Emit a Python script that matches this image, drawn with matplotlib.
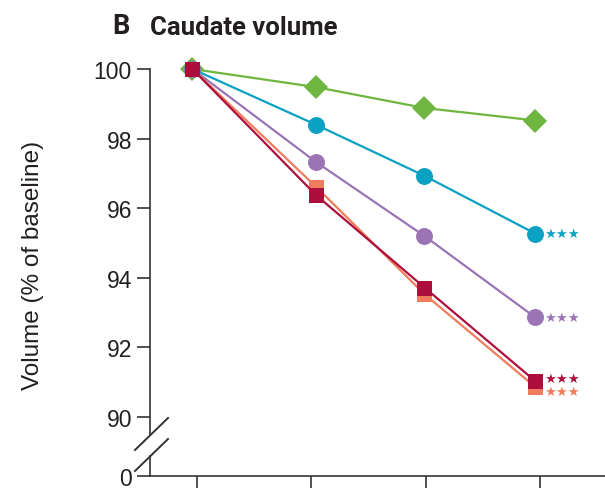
import numpy as np
import matplotlib
matplotlib.use("Agg")
import matplotlib.pyplot as plt
from matplotlib.lines import Line2D

# ---- data ----
tick_positions = [0, 1, 2, 3]
visit_times = [-0.04, 1.04, 1.99, 2.96]
green_vals = [100.0, 99.48, 98.88, 98.52]
cyan_vals = [100.0, 98.40, 96.93, 95.27]
purple_vals = [100.0, 97.33, 95.20, 92.86]
orange_vals = [100.0, 96.62, 93.53, 90.86]
red_vals = [100.0, 96.38, 93.72, 91.03]
ytick_vals = [0, 90, 92, 94, 96, 98, 100]
ytick_labels = ["0", "90", "92", "94", "96", "98", "100"]
stars = "★★★"

C_GREEN = "#6fb640"
C_CYAN = "#0aa1c2"
C_PURPLE = "#9b74b6"
C_ORANGE = "#ef7d5c"
C_RED = "#ad0f3c"
TXT = "#231f20"
AX = "#333333"

# broken axis scale: 0..90 compressed into a short segment
Z0 = 88.305
def fwd(v):
    v = np.asarray(v, dtype=float)
    return np.where(v >= 90, v, Z0 + v * (90 - Z0) / 90.0)

def inv(y):
    y = np.asarray(y, dtype=float)
    return np.where(y >= 90, y, (y - Z0) * 90.0 / (90 - Z0))

plt.rcParams['font.family'] = ['Liberation Sans', 'DejaVu Sans']

fig = plt.figure(figsize=(6.05, 4.89), dpi=100)
W, H = 605, 489
ax_left, ax_right = 150, 605
ax_top, ax_bot = 70, 477
ax = fig.add_axes([ax_left / W, (H - ax_bot) / H, (ax_right - ax_left) / W, (ax_bot - ax_top) / H])
ax.set_yscale('function', functions=(fwd, inv))

series = [
    (green_vals, C_GREEN, 'D', 11.8),
    (cyan_vals, C_CYAN, 'o', 12.2),
    (purple_vals, C_PURPLE, 'o', 12.2),
    (orange_vals, C_ORANGE, 's', 10.8),
    (red_vals, C_RED, 's', 10.8),
]
for vals, col, mk, ms in series:
    ax.plot(visit_times, vals, color=col, lw=1.6, marker=mk, ms=ms,
            markeredgewidth=0, clip_on=False, zorder=3)

# significance stars
star_series = [(cyan_vals, C_CYAN, 0), (purple_vals, C_PURPLE, 0),
               (red_vals, C_RED, 2.0), (orange_vals, C_ORANGE, -3.0)]
for vals, col, dy in star_series:
    ax.annotate(stars, xy=(visit_times[-1], vals[-1]), xytext=(6.5, dy),
                textcoords='offset points', ha='left', va='center',
                fontsize=9.5, color=col, family=['DejaVu Sans'], zorder=4)

ax.set_xlim(-0.411, 3.569)
ax.set_ylim(0, 100)
ax.set_xticks(tick_positions)
ax.set_xticklabels([])
ax.set_yticks(ytick_vals)
ax.set_yticklabels(ytick_labels)

for s in ['top', 'right', 'left']:
    ax.spines[s].set_visible(False)
ax.spines['bottom'].set_color(AX)
ax.spines['bottom'].set_linewidth(1.2)
ax.tick_params(axis='y', length=9.5, width=1.2, color=AX, pad=3.5,
               labelsize=16.5, labelcolor=TXT)
ax.tick_params(axis='x', length=10, width=1.2, color=AX)

# left spine with break
def yf(py):
    return (ax_bot - py) / (ax_bot - ax_top)
def xf(px):
    return (px - ax_left) / (ax_right - ax_left)

ax.add_line(Line2D([0, 0], [yf(436), 1.0], transform=ax.transAxes, color=AX,
                   lw=1.2, clip_on=False))
ax.add_line(Line2D([0, 0], [0, yf(457)], transform=ax.transAxes, color=AX,
                   lw=1.2, clip_on=False))
ax.add_line(Line2D([xf(135), xf(168)], [yf(451), yf(419)], transform=ax.transAxes,
                   color=AX, lw=1.4, clip_on=False))
ax.add_line(Line2D([xf(135), xf(168)], [yf(472), yf(440)], transform=ax.transAxes,
                   color=AX, lw=1.4, clip_on=False))

ax.set_ylabel("Volume (% of baseline)", fontsize=17.5, color=TXT)
ax.yaxis.set_label_coords(-(150 - 44) / 455, yf(265))

# title
fig.text(112 / W, 1 - 27 / H, "B", fontsize=19.5, fontweight='bold', color=TXT,
         ha='left', va='center', family=['Roboto', 'Liberation Sans'])
fig.text(150 / W, 1 - 28 / H, "Caudate volume", fontsize=18.5, fontweight='bold', color=TXT,
         ha='left', va='center', family=['Roboto', 'Liberation Sans'])

fig.savefig("out.png", dpi=100)
